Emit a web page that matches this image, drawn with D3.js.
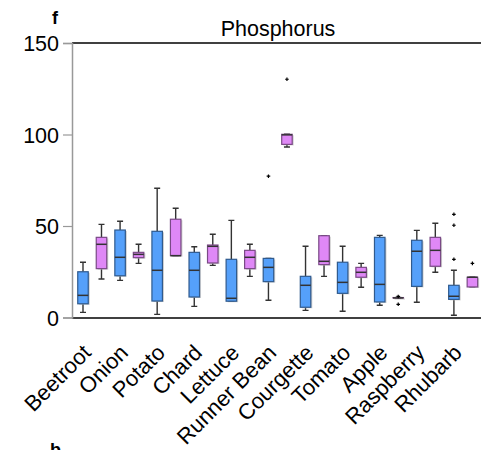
<!DOCTYPE html>
<html>
<head>
<meta charset="utf-8">
<script src="https://cdn.jsdelivr.net/npm/d3@7"></script>
<style>
  body { margin: 0; background: #fff; }
  svg { font-family: "Liberation Sans", Arial, sans-serif; }
</style>
</head>
<body>
<svg id="chart" width="481" height="450"></svg>
<script>
// categories along the x axis
const categories = ['Beetroot', 'Onion', 'Potato', 'Chard', 'Lettuce', 'Runner Bean',
                    'Courgette', 'Tomato', 'Apple', 'Raspberry', 'Rhubarb'];

// boxes: [lower whisker, q1, median, q3, upper whisker]
const blueBoxes = [
  [2.8, 7.5, 12.1, 25.0, 30.2],
  [20.3, 22.8, 32.9, 47.8, 52.6],
  [1.7, 9.0, 25.8, 47.1, 70.6],
  [6.1, 11.2, 25.8, 35.6, 38.7],
  [8.9, 8.9, 10.5, 31.8, 53.1],
  [9.4, 19.6, 27.4, 32.3, 32.3],
  [3.9, 5.6, 17.6, 22.5, 38.9],
  [3.4, 13.2, 19.2, 30.2, 38.9],
  [6.7, 8.5, 18.1, 43.8, 44.9],
  [8.3, 17.0, 36.2, 42.2, 47.6],
  [1.2, 9.9, 11.6, 17.6, 25.8]
];
const violetBoxes = [
  [21.0, 26.7, 40.0, 43.8, 50.9],
  [29.6, 32.7, 34.5, 35.6, 40.0],
  [33.8, 33.8, 33.8, 53.7, 59.7],
  [28.5, 29.8, 38.9, 39.6, 45.5],
  [22.5, 26.7, 32.9, 36.7, 40.0],
  [93.2, 94.6, 99.8, 100.1, 100.1],
  [22.5, 28.9, 30.7, 44.7, 44.7],
  [16.5, 22.0, 24.7, 27.4, 29.6],
  [10.7, 10.7, 10.7, 10.9, 10.9],
  [24.7, 28.0, 36.7, 43.8, 51.5],
  [16.7, 16.7, 22.0, 22.0, 22.0]
];

// outliers: [category, value]
const blueOutliers = [['Runner Bean', 77.2], ['Rhubarb', 56.4], ['Rhubarb', 50.4], ['Rhubarb', 31.8]];
const violetOutliers = [['Runner Bean', 130.2], ['Apple', 11.5], ['Apple', 7.2], ['Rhubarb', 29.6]];

const yTicks = [0, 50, 100, 150];

const svg = d3.select('#chart');
const plotLeft = 72, plotRight = 481, plotTop = 43, plotBottom = 318;

const x = d3.scaleBand()
  .domain(categories)
  .range([73.7, 481.7]);

const y = d3.scaleLinear()
  .domain([0, 150])
  .range([plotBottom - 0.5, plotTop]);

const boxW = 10.5, capW = 6, dodge = 9.25;

// frame lines
svg.append('line')
  .attr('x1', plotLeft).attr('x2', plotRight)
  .attr('y1', plotTop).attr('y2', plotTop)
  .attr('stroke', '#000').attr('stroke-width', 1.3);

svg.append('line')
  .attr('x1', plotLeft).attr('x2', plotRight)
  .attr('y1', plotBottom).attr('y2', plotBottom)
  .attr('stroke', '#000').attr('stroke-width', 1.6);

// y axis
const yAxis = svg.append('g')
  .attr('transform', `translate(${plotLeft},0)`)
  .call(d3.axisLeft(y).tickValues(yTicks).tickSize(9).tickPadding(4));

yAxis.select('.domain').attr('stroke', '#999').attr('stroke-width', 1.5);
yAxis.selectAll('.tick line').attr('stroke', '#999').attr('stroke-width', 1.2);
yAxis.selectAll('.tick text')
  .attr('fill', '#000')
  .style('font-size', '21.5px')
  .attr('dy', '0.36em');

// x labels
svg.append('g')
  .selectAll('text')
  .data(categories)
  .enter()
  .append('text')
    .attr('text-anchor', 'end')
    .attr('transform', d => `translate(${x(d) + x.bandwidth() / 2}, 354) rotate(-45)`)
    .style('font-size', '22px')
    .text(d => d);

function drawSeries(data, offset, fill, stroke) {
  const g = svg.append('g');
  const rows = data.map((b, i) => ({ cat: categories[i], b: b }));

  const cx = d => x(d.cat) + x.bandwidth() / 2 + offset;

  // whiskers
  g.selectAll('.whisk')
    .data(rows)
    .enter()
    .append('path')
      .attr('d', d => {
        const c = cx(d);
        return `M${c},${y(d.b[0])}V${y(d.b[1])}M${c},${y(d.b[3])}V${y(d.b[4])}` +
               `M${c - capW / 2},${y(d.b[0])}H${c + capW / 2}` +
               `M${c - capW / 2},${y(d.b[4])}H${c + capW / 2}`;
      })
      .attr('stroke', '#333')
      .attr('stroke-width', 1.4)
      .attr('fill', 'none');

  // shadow
  g.selectAll('.shadow')
    .data(rows)
    .enter()
    .append('rect')
      .attr('x', d => cx(d) - boxW / 2 + 1.5)
      .attr('y', d => y(d.b[3]) + 1)
      .attr('width', boxW)
      .attr('height', d => Math.max(1, y(d.b[1]) - y(d.b[3])))
      .attr('fill', '#bbb')
      .attr('opacity', 0.7);

  // boxes
  g.selectAll('.box')
    .data(rows)
    .enter()
    .append('rect')
      .attr('x', d => cx(d) - boxW / 2)
      .attr('y', d => y(d.b[3]))
      .attr('width', boxW)
      .attr('height', d => y(d.b[1]) - y(d.b[3]))
      .attr('fill', fill)
      .attr('stroke', stroke)
      .attr('stroke-width', 1.2);

  // medians
  g.selectAll('.median')
    .data(rows)
    .enter()
    .append('line')
      .attr('x1', d => cx(d) - boxW / 2)
      .attr('x2', d => cx(d) + boxW / 2)
      .attr('y1', d => y(d.b[2]))
      .attr('y2', d => y(d.b[2]))
      .attr('stroke', '#333')
      .attr('stroke-width', 1.5);
}

function drawOutliers(list, offset) {
  svg.append('g')
    .selectAll('path')
    .data(list)
    .enter()
    .append('path')
      .attr('d', d => {
        const c = x(d[0]) + x.bandwidth() / 2 + offset, v = y(d[1]);
        return `M${c - 1.8},${v}H${c + 1.8}M${c},${v - 1.8}V${v + 1.8}`;
      })
      .attr('stroke', '#000')
      .attr('stroke-width', 1.2);
}

drawSeries(blueBoxes, -dodge, '#55a0fa', '#2f5a8e');
drawSeries(violetBoxes, dodge, '#df88f6', '#7a4a86');
drawOutliers(blueOutliers, -dodge);
drawOutliers(violetOutliers, dodge);

// title and panel letters
svg.append('text')
  .attr('x', 278).attr('y', 36)
  .attr('text-anchor', 'middle')
  .style('font-size', '21.5px')
  .text('Phosphorus');

svg.append('text')
  .attr('x', 52).attr('y', 24)
  .style('font-size', '18px')
  .style('font-weight', 'bold')
  .text('f');

svg.append('text')
  .attr('x', 50).attr('y', 456)
  .style('font-size', '18px')
  .style('font-weight', 'bold')
  .text('b');
</script>
</body>
</html>
